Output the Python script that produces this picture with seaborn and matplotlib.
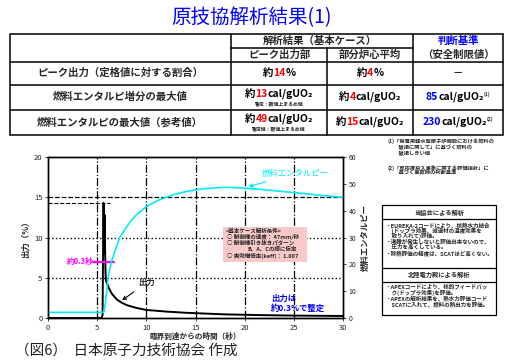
import matplotlib.pyplot as plt
import seaborn as sns
from matplotlib.patches import Rectangle

# 出力 (%) ― 臨界到達からの時間 (秒)
tiempo_p = [0, 5.45, 5.55, 5.6, 5.65, 5.7, 5.75, 5.8, 5.85, 5.9, 6.0, 6.2, 6.5, 7.0, 7.5, 8.0, 9.0, 10,
            12, 14, 16, 18, 20, 22, 25, 28, 30]
potencia = [0, 0, 0.4, 8.5, 14.3, 8.0, 12.8, 9.0, 5.5, 4.6, 4.3, 3.7, 3.0, 2.3, 1.9, 1.6, 1.25, 1.0,
            0.8, 0.65, 0.55, 0.45, 0.4, 0.35, 0.3, 0.27, 0.25]

# 燃料エンタルピー (cal/gUO2)
tiempo_e = [0, 5.6, 5.7, 5.85, 6.0, 6.1, 6.45, 7.0, 7.3, 8.0, 8.5, 9.0, 10, 11, 12, 13, 14, 15, 16,
            17, 18, 19, 20, 22, 24, 26, 28, 30]
entalpia = [2.1, 2.1, 2.6, 6, 11, 15, 21, 27, 30, 34, 36.5, 38.5, 41.5, 43.5, 45.0, 46.2, 47.1, 47.8, 48.2,
            48.5, 48.7, 48.6, 48.4, 47.8, 47.1, 46.4, 45.6, 45.0]

pico = 14.3
xticks = [0, 5, 10, 15, 20, 25, 30]
yticks_izq = [0, 5, 10, 15, 20]
yticks_der = [0, 10, 20, 30, 40, 50, 60]

# 表の中身
filas = ['ピーク出力（定格値に対する割合）', '燃料エンタルピ増分の最大値', '燃料エンタルピの最大値（参考値）']
pico_vals = ['14', '13', '49']
prom_vals = ['4', '4', '15']
criterio_vals = ['', '85', '230']

CYAN = '#00eef5'
AZUL = '#0000ff'
ROJO = '#ff0000'
MAGENTA = '#ff00ff'

sns.set_style("white")
plt.rcParams['font.family'] = ['Noto Sans CJK JP', 'DejaVu Sans']

fig = plt.figure(figsize=(5.1, 3.61), dpi=100)
ax = fig.add_axes([48 / 510, 1 - 318 / 361, 295 / 510, 161 / 361])
ax2 = ax.twinx()
ov = fig.add_axes([0, 0, 1, 1], zorder=10)
ov.set_xlim(0, 510)
ov.set_ylim(361, 0)
ov.axis('off')

# ---- グラフ ----
for x in [5, 10, 15, 20, 25]:
    ax.axvline(x, color='black', lw=0.9, ls='-.')
ax.axhline(15, color='black', lw=0.9, ls='--')
for y in [5, 10]:
    ax.axhline(y, color='black', lw=1.0, ls=':')
ax.plot([0, 6.3], [pico, pico], color='black', lw=0.8, ls='--')

sns.lineplot(x=tiempo_p, y=potencia, ax=ax, color='black', lw=1.4)
sns.lineplot(x=tiempo_e, y=entalpia, ax=ax2, color=CYAN, lw=1.2)

ax.set_xlim(0, 30)
ax.set_ylim(0, 20)
ax2.set_ylim(0, 60)
ax.set_xticks(xticks)
ax.set_yticks(yticks_izq)
ax2.set_yticks(yticks_der)
ax.tick_params(labelsize=5.5, length=2, width=0.6, pad=2, left=True, bottom=True)
ax2.tick_params(labelsize=5, length=2, width=0.6, pad=2, right=True)
for a in (ax, ax2):
    for s in a.spines.values():
        s.set_color('black')
        s.set_linewidth(1.0)
ax.set_xlabel('臨界到達からの時間（秒）', fontsize=5.5, fontweight='bold', labelpad=0)
ax.set_ylabel('出力（%）', fontsize=6, fontweight='bold', labelpad=3)
ax2.set_ylabel('燃料エンタルピー', fontsize=6, fontweight='bold', labelpad=3)

ax.annotate('出力', xy=(7.3, 2.0), xytext=(9.2, 4.4), fontsize=6, fontweight='bold', va='center',
            arrowprops=dict(arrowstyle='->', color='black', lw=0.8))
ax.annotate('燃料エンタルピー', xy=(20.1, 16.2), xytext=(21.7, 18.0), fontsize=6, color=CYAN, va='center',
            arrowprops=dict(arrowstyle='-|>', color=CYAN, lw=0.8, mutation_scale=6))
ax.text(1.9, 7.0, '約0.3秒', color=MAGENTA, fontsize=5.5, fontweight='bold', va='center')
ax.plot([4.6, 6.7], [7, 7], color=MAGENTA, lw=1.6)
ax.text(22.7, 2.5, '出力は', color=AZUL, fontsize=6, fontweight='bold', va='center')
ax.text(22.7, 1.2, '約0.3%で整定', color=AZUL, fontsize=6, fontweight='bold', va='center')

# 基本ケース解析条件
ov.add_patch(Rectangle((223, 227), 84, 35, facecolor='#f9c8c8', edgecolor='none'))
cond = [(226, 231, '<基本ケース解析条件>'),
        (227, 237, '○ 制御棒の速度： 47mm/秒'),
        (227, 243, '○ 制御棒引き抜きパターン'),
        (248, 249, 'B、A、Cの順に仮定'),
        (227, 256, '○ 実効増倍率(keff)： 1.007')]
for x, y, s in cond:
    ov.text(x, y, s, fontsize=4, fontweight='bold', va='center')

# ---- タイトル ----
ov.text(252, 18, '原技協解析結果(1)', color=AZUL, fontsize=14, ha='center', va='center')

# ---- 表 ----
lw_t = 1.1
ov.add_patch(Rectangle((10, 34), 493, 101, fill=False, edgecolor='black', lw=lw_t))
ov.plot([231, 413], [48, 48], color='black', lw=lw_t)
for y in [62, 85, 110]:
    ov.plot([10, 503], [y, y], color='black', lw=lw_t)
ov.plot([231, 231], [34, 135], color='black', lw=lw_t)
ov.plot([327, 327], [48, 135], color='black', lw=lw_t)
ov.plot([413, 413], [34, 135], color='black', lw=lw_t)

fs = 7.5
ov.text(320, 41, '解析結果（基本ケース）', fontsize=fs, fontweight='bold', ha='center', va='center')
ov.text(279, 55, 'ピーク出力部', fontsize=fs, fontweight='bold', ha='center', va='center')
ov.text(370, 55, '部分炉心平均', fontsize=fs, fontweight='bold', ha='center', va='center')
ov.text(458, 41, '判断基準', fontsize=fs, fontweight='bold', color=AZUL, ha='center', va='center')
ov.text(458, 55, '（安全制限値）', fontsize=fs, fontweight='bold', ha='center', va='center')

row_y = [73, 97, 122]
for fila, y in zip(filas, row_y):
    ov.text(120, y, fila, fontsize=fs, fontweight='bold', ha='center', va='center')

grupos = []


def rich(x, y, partes, size=fs, sup=None):
    first = ov.text(x, y, partes[0][0], color=partes[0][1], fontsize=size, fontweight='bold',
                    ha='left', va='center')
    prev = first
    for s, c in partes[1:]:
        prev = ov.annotate(s, xy=(1, 0), xycoords=prev, va='bottom', ha='left', color=c,
                           fontsize=size, fontweight='bold')
    if sup:
        prev = ov.annotate(sup, xy=(1, 1), xycoords=prev, va='top', ha='left', fontsize=3.5,
                           fontweight='bold')
    grupos.append((x, first, prev))


rich(279, 73, [('約', 'black'), (pico_vals[0], ROJO), ('%', 'black')])
rich(370, 73, [('約', 'black'), (prom_vals[0], ROJO), ('%', 'black')])
ov.text(458, 73, '－', fontsize=fs, fontweight='bold', ha='center', va='center')

rich(279, 94, [('約', 'black'), (pico_vals[1], ROJO), ('cal/gUO₂', 'black')])
ov.text(279, 104, '暫定：数値上まるめ値', fontsize=3.5, fontweight='bold', ha='center', va='center')
rich(370, 97, [('約', 'black'), (prom_vals[1], ROJO), ('cal/gUO₂', 'black')])
rich(458, 97, [(criterio_vals[1], AZUL), ('cal/gUO₂', 'black')], sup='(1)')

rich(279, 119, [('約', 'black'), (pico_vals[2], ROJO), ('cal/gUO₂', 'black')])
ov.text(279, 129, '暫定値：数値上まるめ値', fontsize=3.5, fontweight='bold', ha='center', va='center')
rich(370, 122, [('約', 'black'), (prom_vals[2], ROJO), ('cal/gUO₂', 'black')])
rich(458, 122, [(criterio_vals[2], AZUL), ('cal/gUO₂', 'black')], sup='(2)')

# ---- 注記 ----
notas = [(141, '(1)「発電用軽水型原子炉施設における燃料の'),
         (147, '　　破損に関して」に基づく燃料の'),
         (153, '　　破損しきい値'),
         (168, '(2)「反応度投入事象に関する評価指針」に'),
         (173, '　　基づく事故時の判断基準')]
for y, s in notas:
    ov.text(388, y, s, fontsize=3.8, fontweight='bold', va='center')

# ---- 解析の説明枠 ----
ov.add_patch(Rectangle((382, 205), 114, 110, fill=False, edgecolor='black', lw=0.9))
for y in [219, 268, 282]:
    ov.plot([382, 496], [y, y], color='black', lw=0.9)
ov.text(439, 212, '当協会による解析', fontsize=4.5, fontweight='bold', ha='center', va='center')
ov.text(439, 275, '北陸電力殿による解析', fontsize=4.5, fontweight='bold', ha='center', va='center')
lineas = [(226, '・EUREKA-2コードにより、核熱水力結合'),
          (231, '　(ドップラ効果、減速材の温度効果を'),
          (236, '　取り入れて)評価。'),
          (242, '・沸騰が発生しないと評価出来ないので、'),
          (247, '　圧力を高くしている。'),
          (254, '・除熱評価の精度は、SCATほど高くない。'),
          (287, '・APEXコードにより、核的フィードバッ'),
          (293, '　ク(ドップラ効果)を評価。'),
          (299, '・APEXの解析結果を、熱水力評価コード'),
          (305, '　SCATに入れて、燃料の熱出力を評価。')]
for y, s in lineas:
    ov.text(386, y, s, fontsize=4, fontweight='bold', va='center')

# ---- 出典 ----
ov.text(15, 351, '（図6）  日本原子力技術協会 作成', fontsize=10.5, color='#222222', va='center')

# 色分けテキストを中央揃え
fig.canvas.draw()
r = fig.canvas.get_renderer()
for x, first, last in grupos:
    w = last.get_window_extent(r).x1 - first.get_window_extent(r).x0
    first.set_x(x - w / 2)

fig.savefig('out.png', dpi=100)
